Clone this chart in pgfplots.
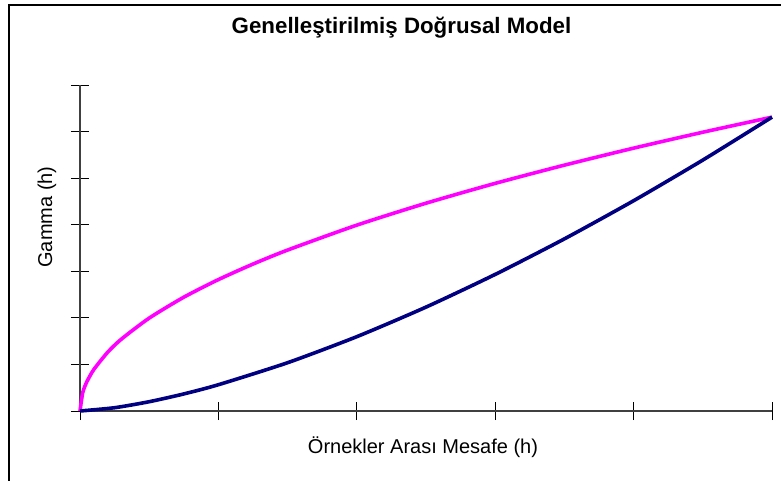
\documentclass[border=0pt]{standalone}
\usepackage{pgfplots}
\pgfplotsset{compat=1.18}
\usepackage{fontspec}
\setmainfont{Liberation Sans}
\definecolor{navyc}{RGB}{0,0,128}
\definecolor{magc}{RGB}{255,0,255}
\begin{document}
\begin{tikzpicture}[x=1pt,y=1pt]
\begin{axis}[
  at={(80pt,69pt)}, anchor=south west,
  scale only axis, width=692pt, height=326pt,
  xmin=0, xmax=5, ymin=0, ymax=7,
  axis lines*=left,
  xtick={0,1,2,3,4,5}, ytick={0,1,2,3,4,5,6,7},
  xticklabels={}, yticklabels={},
  tick align=center, major tick length=18pt,
  tick style={black, line width=0.9pt},
  axis line style={black!75, line width=1.1pt},
  clip=false,
]
\addplot[magc, line width=3.6pt, smooth, tension=0.4] coordinates {
(0,0) (0.02,0.399) (0.05,0.631) (0.1,0.892) (0.2,1.262) (0.3,1.546) (0.5,1.995) (0.75,2.444) (1,2.822) (1.25,3.155) (1.5,3.456) (2,3.991) (2.5,4.462) (3,4.888) (3.5,5.279) (4,5.644) (4.5,5.986) (5,6.310)};
\addplot[navyc, line width=3.6pt, smooth, tension=0.4] coordinates {
(0,0) (0.25,0.0706) (0.5,0.1996) (0.75,0.3666) (1,0.5644) (1.5,1.037) (2,1.596) (2.5,2.231) (3,2.933) (3.5,3.696) (4,4.515) (4.5,5.388) (5,6.310)};
\end{axis}
\node[anchor=base, font=\fontsize{22.3}{26}\selectfont\bfseries] at (401.5,446) {Genelleştirilmiş Doğrusal Model};
\node[anchor=base, font=\fontsize{20}{24}\selectfont] at (423,27) {Örnekler Arası Mesafe (h)};
\node[anchor=base, rotate=90, font=\fontsize{20}{24}\selectfont] at (52,263) {Gamma (h)};
\pgfresetboundingbox
\useasboundingbox (0,0) rectangle (781,480);
\draw[line width=1.5pt, black] (9,-20) -- (9,475) -- (800,475);
\end{tikzpicture}
\end{document}
